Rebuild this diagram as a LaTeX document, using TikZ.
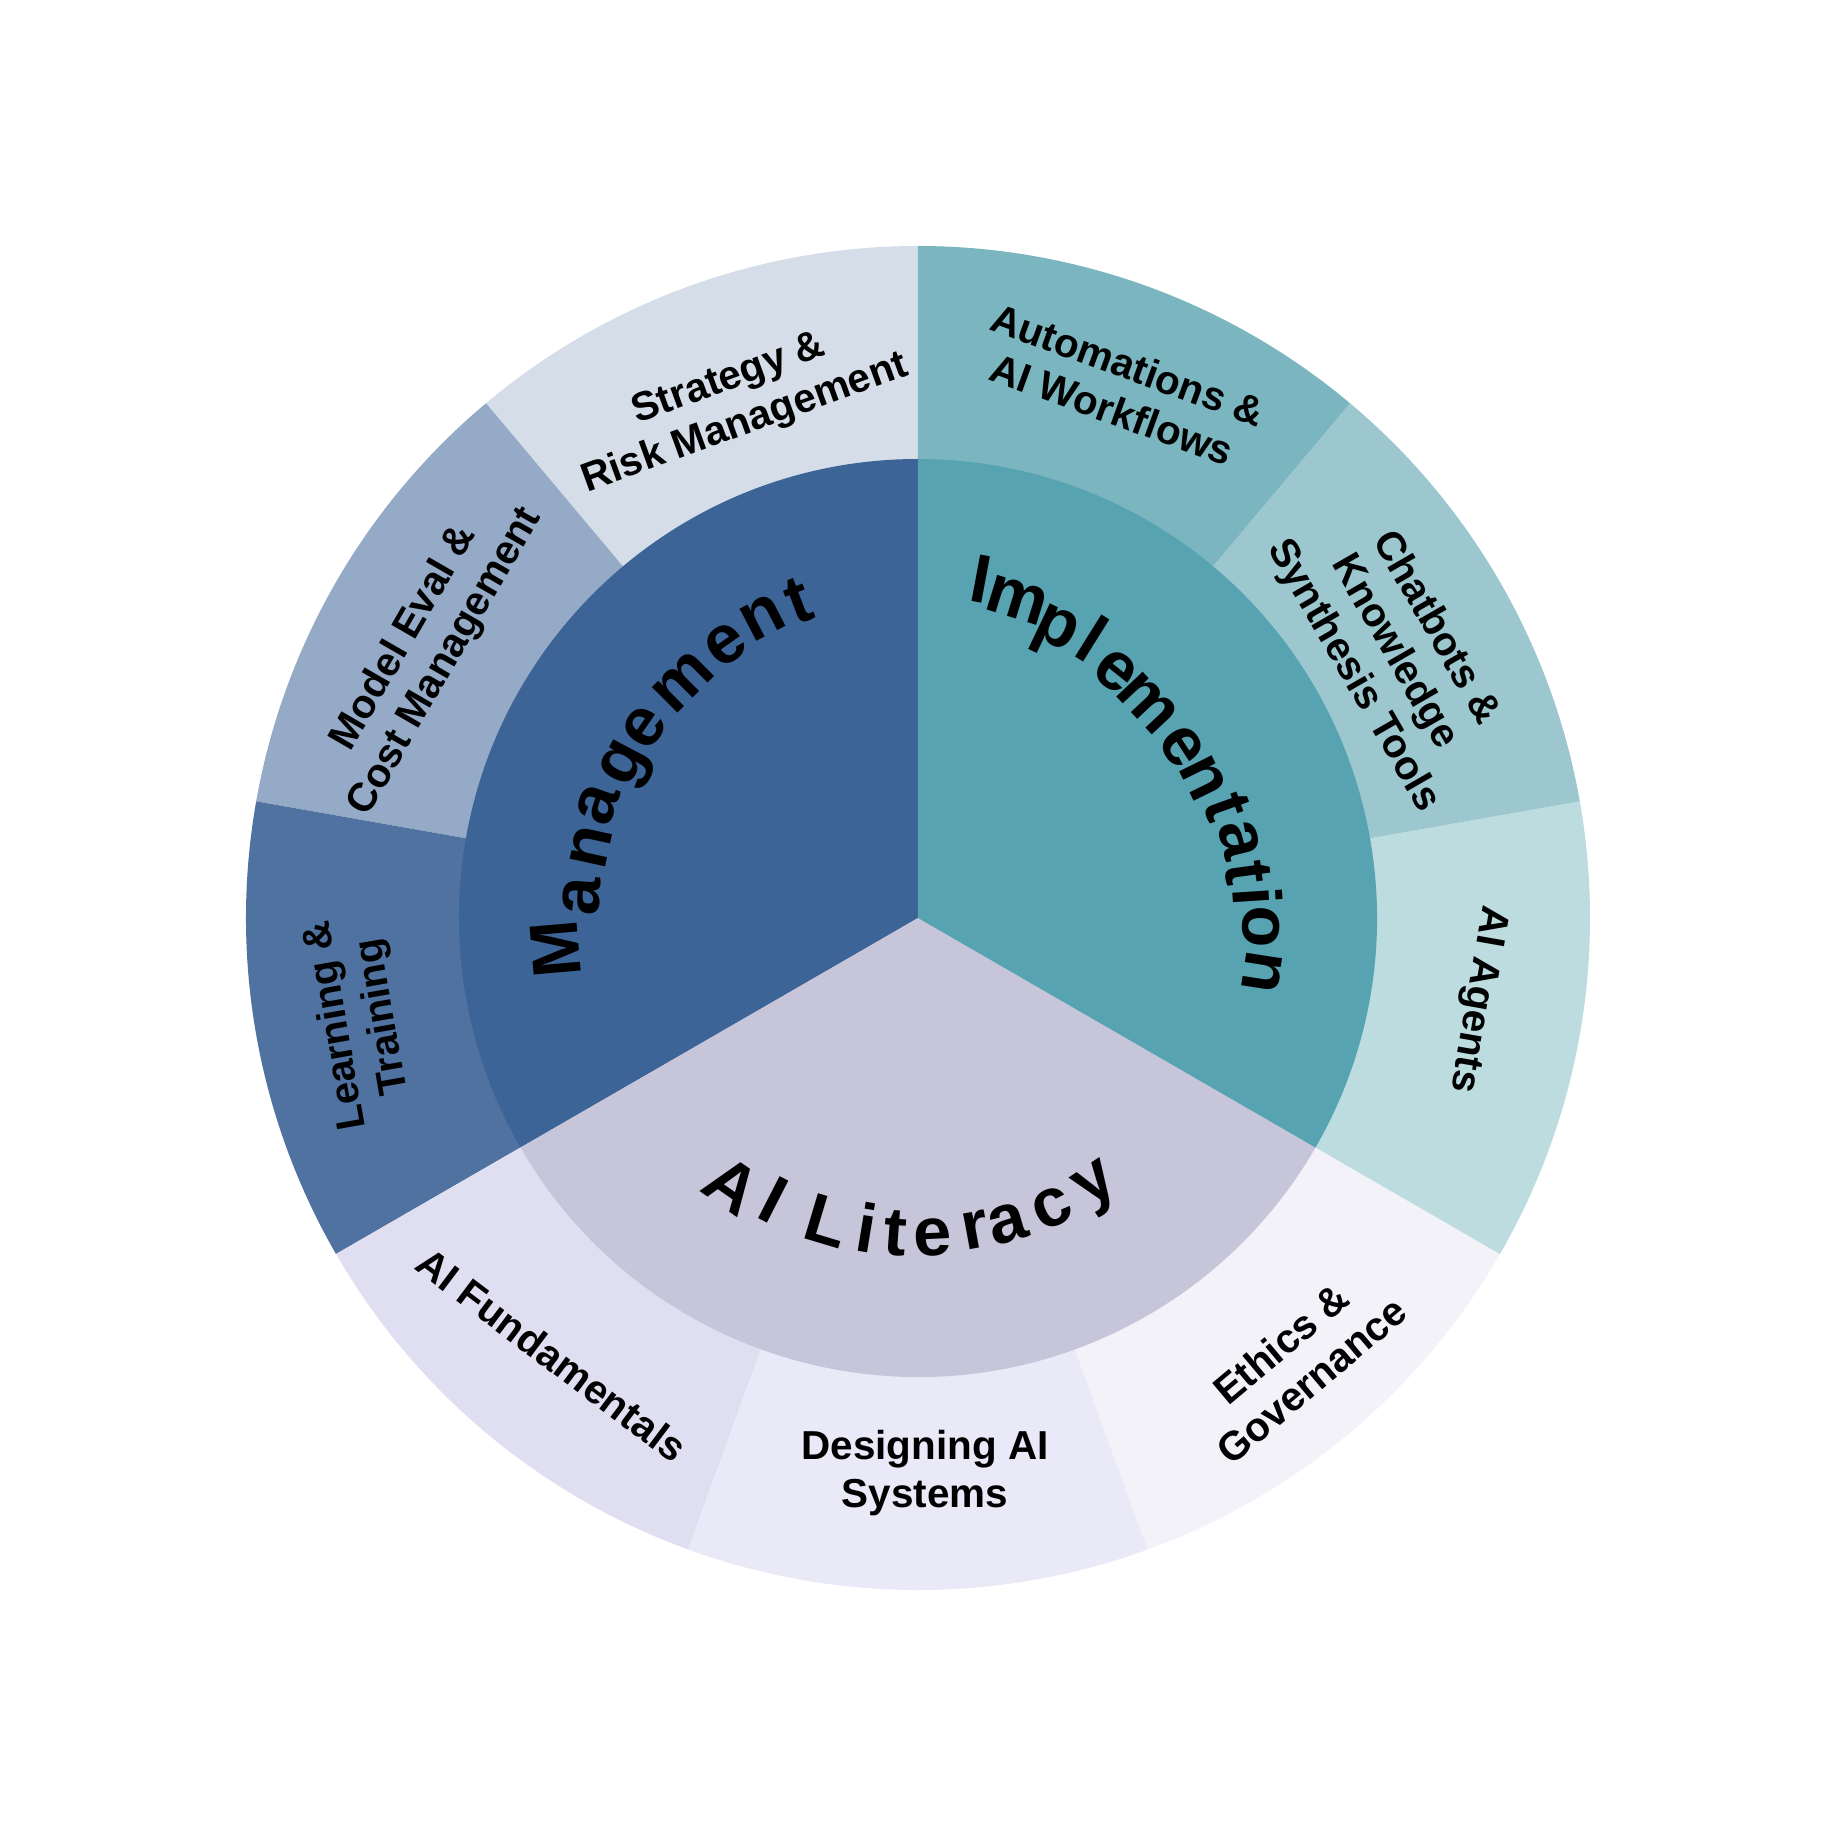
\documentclass[tikz,border=0pt]{standalone}
\usepackage{fontspec}
\setmainfont{Liberation Sans}

\definecolor{mgmtcore}{HTML}{3D6496}
\definecolor{implcore}{HTML}{58A3B1}
\definecolor{litcore}{HTML}{C6C5D9}
\definecolor{strategy}{HTML}{D5DEE8}
\definecolor{modeleval}{HTML}{95AAC6}
\definecolor{learning}{HTML}{5072A0}
\definecolor{automations}{HTML}{7BB6C0}
\definecolor{chatbots}{HTML}{9DC7CF}
\definecolor{agents}{HTML}{BCDCDF}
\definecolor{fundamentals}{HTML}{E0DFF2}
\definecolor{designing}{HTML}{EAE9F7}
\definecolor{ethics}{HTML}{F3F2F9}

\begin{document}
\begin{tikzpicture}[
  leaf/.style={font=\bfseries\fontsize{11.5}{13.5}\selectfont, align=center, inner sep=0pt},
  bigletter/.style={font=\bfseries\fontsize{19.5}{20}\selectfont, inner sep=0pt}]

\useasboundingbox (-9.18,-9.18) rectangle (9.18,9.18);

% Outer ring: one wedge per topic, the core is laid over it
\foreach \from/\to/\col in {90/130/strategy, 130/170/modeleval, 170/210/learning,
    210/250/fundamentals, 250/290/designing, 290/330/ethics,
    -30/10/agents, 10/50/chatbots, 50/90/automations}
  \fill[\col] (0,0) -- (\from:6.72) arc[start angle=\from, end angle=\to, radius=6.72] -- cycle;

% Inner core
\fill[mgmtcore] (0,0) -- (90:4.59) arc[start angle=90, end angle=210, radius=4.59] -- cycle;
\fill[litcore] (0,0) -- (210:4.59) arc[start angle=210, end angle=330, radius=4.59] -- cycle;
\fill[implcore] (0,0) -- (-30:4.59) arc[start angle=-30, end angle=90, radius=4.59] -- cycle;

% Curved core titles, letter by letter
\foreach \ch/\x/\y/\r [count=\i] in {M/-3.62/-0.31/94.9, a/-3.36/0.22/86.3, n/-3.27/0.71/77.7,
    a/-3.20/1.14/70.4, g/-2.90/1.52/62.3, e/-2.73/1.90/55.2, m/-2.35/2.36/44.9,
    e/-1.92/2.73/35.1, n/-1.55/3.00/27.3, t/-1.20/3.17/20.7}
  \node[bigletter, rotate=\r] (mgmt\i) at (\x,\y) {\ch};

\foreach \ch/\x/\y/\r [count=\i] in {I/0.63/3.39/-10.6, m/0.99/3.18/-17.3, p/1.36/2.85/-25.5,
    l/1.75/2.80/-32.0, e/1.98/2.47/-38.7, m/2.30/2.15/-46.9, e/2.64/1.71/-57.1,
    n/2.85/1.40/-63.8, t/3.09/1.11/-70.2, a/3.22/0.78/-76.4, t/3.30/0.45/-82.2,
    i/3.40/0.22/-86.3, o/3.43/-0.09/-91.5, n/3.44/-0.54/-98.9}
  \node[bigletter, rotate=\r] (impl\i) at (\x,\y) {\ch};

\foreach \ch/\x/\y/\r [count=\i] in {A/-1.86/-2.67/-34.9, I/-1.44/-2.82/-27.1, L/-0.91/-3.03/-16.7,
    i/-0.51/-3.10/-9.3, t/-0.23/-3.15/-4.2, e/0.15/-3.20/2.7, r/0.57/-3.12/10.4,
    a/0.90/-3.06/16.4, c/1.34/-2.90/24.8, y/1.80/-2.71/33.6}
  \node[bigletter, rotate=\r] (lit\i) at (\x,\y) {\ch};

% Outer ring labels
\node[leaf, rotate=20] (strategyText) at (-1.81,5.16) {Strategy \&\\Risk Management};
\node[leaf, rotate=60] (modelevalText) at (-4.93,2.68) {Model Eval \&\\Cost Management};
\node[leaf, rotate=100] (learningText) at (-5.58,-1.03) {Learning \&\\Training};
\node[leaf, rotate=-20] (automationsText) at (2.02,5.31) {Automations \&\\AI Workflows};
\node[leaf, rotate=-60] (chatbotsText) at (4.76,2.66) {Chatbots \&\\Knowledge\\Synthesis Tools};
\node[leaf, rotate=-100] (agentsText) at (5.59,-0.81) {AI Agents};
\node[leaf, rotate=40] (ethicsText) at (3.78,-4.44) {Ethics \&\\Governance};
\node[leaf] (designingText) at (0.07,-5.55) {Designing AI\\Systems};
\node[leaf, rotate=-37] (fundamentalsText) at (-3.66,-4.37) {AI Fundamentals};

\end{tikzpicture}
\end{document}
